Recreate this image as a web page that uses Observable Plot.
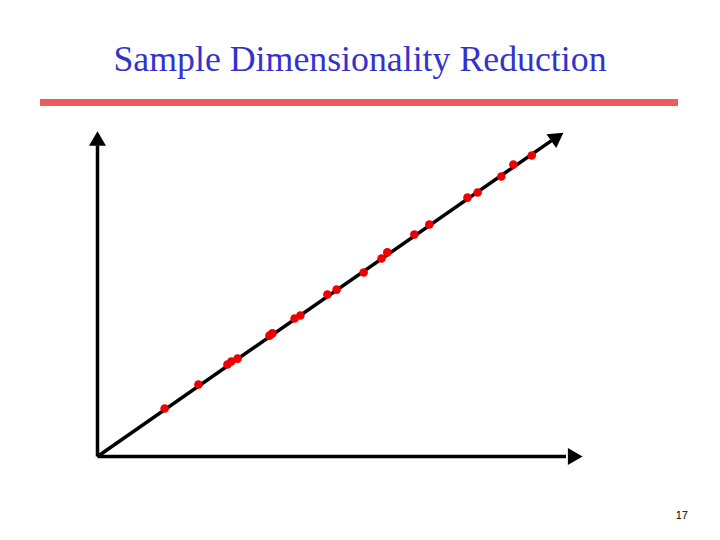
<!DOCTYPE html>
<html>
<head>
<meta charset="utf-8">
<script src="https://cdn.jsdelivr.net/npm/d3@7"></script>
<script src="https://cdn.jsdelivr.net/npm/@observablehq/plot@0.6"></script>
<style>
  body { margin: 0; background: #fff; }
  #wrap { position: relative; width: 720px; height: 540px; overflow: hidden; background: #fff; }
  #head { position: relative; height: 110px; }
  #title { position: absolute; left: 0; width: 720px; top: 38px; text-align: center;
           font-family: "Liberation Serif", "Times New Roman", serif; font-size: 35.8px; color: #3333cc; line-height: 42px; }
  #bar { position: absolute; left: 40px; top: 99px; width: 638px; height: 7px; background: #f05a5a; }
  #page { position: absolute; right: 32px; top: 509px; font-family: "Liberation Sans", Arial, sans-serif; font-size: 11px; color: #000; }
</style>
</head>
<body>
<div id="wrap">
  <div id="head"><div id="title">Sample Dimensionality Reduction</div><div id="bar"></div></div>
  <div id="chart"></div>
  <div id="page">17</div>
</div>
<script>
// Sample points (projected onto the line)
const xs = [13.9, 20.9, 26.9, 27.7, 29.0, 35.6, 36.2, 40.8, 42.0, 47.6, 49.5, 55.1, 58.8, 60.0, 65.6, 68.7, 76.6, 78.7, 83.6, 86.1, 89.9];
const ys = [14.8, 22.2, 28.4, 29.3, 30.2, 37.3, 38.0, 42.6, 43.5, 50.0, 51.5, 56.8, 61.1, 63.0, 68.5, 71.6, 79.9, 81.5, 86.4, 90.1, 92.9];
const points = xs.map((x, i) => ({x, y: ys[i]}));

// Axes and the reduction line (start -> end)
const axisLines = [
  {x1: 0, y1: 0, x2: 0, y2: 96},
  {x1: 0, y1: 0, x2: 97, y2: 0},
  {x1: 0, y1: 0, x2: 94, y2: 97.5}
];
// Arrowheads: position and rotation (degrees clockwise from up)
const heads = [
  {x: 0, y: 97.4, rot: 0},
  {x: 98.4, y: 0, rot: 90},
  {x: 94.8, y: 98.2, rot: 55}
];

const chart = Plot.plot({
  width: 720,
  height: 430,
  marginLeft: 97,
  marginRight: 140,
  marginTop: 22,
  marginBottom: 84,
  x: {domain: [0, 100], axis: null},
  y: {domain: [0, 100], axis: null},
  marks: [
    Plot.link(axisLines, {x1: "x1", y1: "y1", x2: "x2", y2: "y2", stroke: "#000", strokeWidth: 3.5, strokeLinecap: "butt"}),
    Plot.dot(heads, {x: "x", y: "y", symbol: "triangle", r: 6.3, fill: "#000", stroke: "none", rotate: "rot"}),
    Plot.dot(points, {x: "x", y: "y", r: 4.3, fill: "#ee0000", stroke: "none"})
  ]
});
document.getElementById("chart").appendChild(chart);
</script>
</body>
</html>
